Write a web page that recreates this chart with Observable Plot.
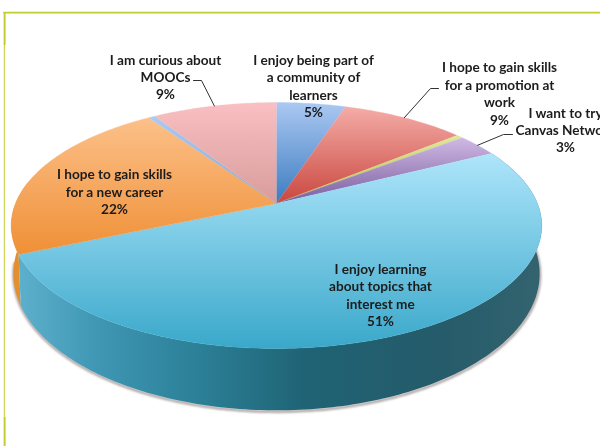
<!DOCTYPE html>
<html><head><meta charset="utf-8">
<style>html,body{margin:0;padding:0;background:#fff;overflow:hidden}svg{display:block}</style>
<script src="https://cdn.jsdelivr.net/npm/d3@7"></script>
<script src="https://cdn.jsdelivr.net/npm/@observablehq/plot@0.6"></script>
</head><body><div id="chart"></div>
<script>
const sliceNames = ["community","promotion","other1","canvas","interest","career","other2","curious"];
const sliceValues = [5, 9, 0.5, 3, 51, 22, 0.5, 9];
const topColors = ["#abc8f2","#f5aca7","#dfe79a","#cfb9e3","#aee5fb","#fcc089","#aecbf0","#f9bfc2"];
const bottomColors = ["#3b7cc0","#c9473f","#b7c24f","#7a5da0","#3aa8ca","#ef9036","#7fa6d8","#d89c9b"];

const labelTexts = [
  "I am curious about\nMOOCs\n9%",
  "I enjoy being part of\na community of\nlearners\n5%",
  "I hope to gain skills\nfor a promotion at\nwork\n9%",
  "I want to try\nCanvas Network\n3%",
  "I hope to gain skills\nfor a new career\n22%",
  "I enjoy learning\nabout topics that\ninterest me\n51%"
];
const labelX = [165, 313, 499, 565, 114, 380];
const labelY = [76, 85, 92.5, 129, 190.5, 294];

// leader lines: label side elbow, and the slice whose rim midpoint they reach
const leaderSlices = ["curious","promotion","canvas"];
const leaderStartX = [193, 438, 512];
const leaderElbowX = [201, 430, 503];
const leaderY = [80, 88, 134];

// perspective model of the disc
const cx = 276, cy = 203, R = 261, persp = 0.179, tilt = 82.7, depth = 46;
const total = d3.sum(sliceValues);
const denom = v => persp * v + 1;
const topPt = t => {
  const a = t * 2 * Math.PI, u = Math.sin(a), v = Math.cos(a);
  return {x: cx + R * u / denom(v), y: (cy - tilt * v) / denom(v)};
};
const botPt = t => {
  const a = t * 2 * Math.PI, u = Math.sin(a), v = Math.cos(a), d = denom(v);
  return {x: cx + R * 0.992 * u / d, y: (cy - tilt * v) / d + depth / Math.pow(d, 1.5)};
};
const sampleT = (t0, t1) => {
  const n = Math.max(2, Math.ceil((t1 - t0) * 360));
  return d3.range(n + 1).map(i => t0 + (t1 - t0) * i / n);
};
const cum = d3.cumsum(sliceValues).map(c => c / total);
const start = i => i ? cum[i - 1] : 0;
const ring = (i) => [{x: cx, y: cy}, ...sampleT(start(i), cum[i]).map(topPt)];
const wall = (t0, t1) => {
  const ts = sampleT(t0, t1);
  return [...ts.map(topPt), ...ts.slice().reverse().map(botPt)];
};
const idx = n => sliceNames.indexOf(n);

const defs = () => {
  const g = d3.create("svg:g");
  const d = g.append("defs");
  sliceNames.forEach((n, i) => {
    const lg = d.append("linearGradient").attr("id", "top-" + n).attr("x1", 0).attr("x2", 0).attr("y1", 0).attr("y2", 1);
    lg.append("stop").attr("offset", 0).attr("stop-color", topColors[i]);
    lg.append("stop").attr("offset", 1).attr("stop-color", bottomColors[i]);
  });
  const w = d.append("linearGradient").attr("id", "wall-blue");
  [[0,"#5db0cc"],[0.15,"#3f97b4"],[0.35,"#2b7f96"],[0.55,"#1f6374"],[0.8,"#255b6a"],[1,"#33636f"]].forEach(([o,c]) =>
    w.append("stop").attr("offset", o).attr("stop-color", c));
  return g.node();
};

const iBlue = idx("interest"), iOrange = idx("career");
const fullFront = [...sampleT(0.17, 0.735).map(botPt)];

const chart = Plot.plot({
  width: 600, height: 446, margin: 0,
  x: {domain: [0, 600], range: [0, 600], axis: null},
  y: {domain: [0, 446], range: [0, 446], axis: null},
  marks: [
    defs,
    // drop shadow below the wall
    Plot.line(fullFront, {x: d => d.x + 0.3, y: d => d.y + 1.3, stroke: "#a89e9e", strokeWidth: 2.5, imageFilter: "blur(1.2px)"}),
    // walls
    Plot.line(wall(start(iOrange), 0.78), {x: "x", y: "y", fill: "#e38f30"}),
    Plot.line(wall(start(iBlue), cum[iBlue]), {x: "x", y: "y", fill: "url(#wall-blue)"}),
    // top face
    ...sliceNames.map((n, i) =>
      Plot.line(ring(i), {x: "x", y: "y", fill: `url(#top-${n})`, stroke: `url(#top-${n})`, strokeWidth: 0.4})),
    // leaders
    ...leaderSlices.map((n, k) => {
      const i = idx(n), p = topPt((start(i) + cum[i]) / 2);
      return Plot.line([{x: leaderStartX[k], y: leaderY[k]}, {x: leaderElbowX[k], y: leaderY[k]}, p],
        {x: "x", y: "y", stroke: "#333", strokeWidth: 1});
    }),
    // frame
    Plot.ruleY([12.2], {x1: 3.3, x2: 600, stroke: "#c2ce30", strokeWidth: 1.7}),
    Plot.ruleX([3.8], {y1: 12, y2: 446, stroke: "#c2ce30", strokeWidth: 1}),
    Plot.ruleX([4.2], {y1: 12, y2: 45, stroke: "#c2ce30", strokeWidth: 1.8}),
    Plot.ruleX([4.2], {y1: 417, y2: 446, stroke: "#c2ce30", strokeWidth: 1.8}),
    // labels
    Plot.text(labelTexts, {x: (d, i) => labelX[i], y: (d, i) => labelY[i], text: d => d,
      fontFamily: "Lato, sans-serif", fontWeight: 700, fontSize: 13.6, lineHeight: 1.28,
      fill: "#1c1c1c", textAnchor: "middle", lineAnchor: "middle", imageFilter: "blur(0.3px)"})
  ]
});
document.getElementById("chart").append(chart);
</script></body></html>
